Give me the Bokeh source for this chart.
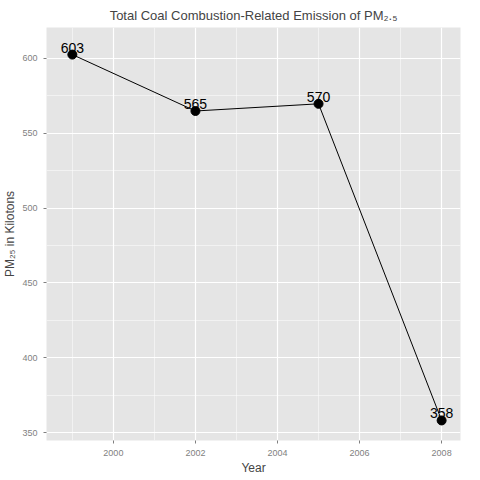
from bokeh.plotting import figure
from bokeh.embed import file_html
from bokeh.resources import INLINE
from bokeh.models import FixedTicker, ColumnDataSource
from bokeh.core.properties import value

years = [1999, 2002, 2005, 2008]
emissions = [602.6, 564.9, 569.7, 358.1]
labels = ["603", "565", "570", "358"]
xticks = [2000, 2002, 2004, 2006, 2008]
yticks = [350, 400, 450, 500, 550, 600]

src = ColumnDataSource(dict(x=years, y=emissions, t=labels))

p = figure(frame_width=414, frame_height=413, output_backend="svg", toolbar_location=None,
           x_range=(1998.37, 2008.46), y_range=(344.7, 620.7),
           min_border_left=44, min_border_right=6, min_border_top=22, min_border_bottom=28)
p.title.text = "Total Coal Combustion-Related Emission of PM\u2082.\u2085"
p.title.align = "center"
p.title.text_font = "Liberation Sans"
p.title.text_font_size = "13px"
p.title.text_font_style = "normal"
p.background_fill_color = "#E5E5E5"
p.outline_line_color = None
p.xaxis.ticker = FixedTicker(ticks=xticks, minor_ticks=[1999, 2001, 2003, 2005, 2007])
p.yaxis.ticker = FixedTicker(ticks=yticks, minor_ticks=[375, 425, 475, 525, 575, 625])
for g in (p.xgrid, p.ygrid):
    g.grid_line_color = "white"
    g.grid_line_width = 1.2
    g.minor_grid_line_color = "white"
    g.minor_grid_line_width = 0.5
for ax in (p.xaxis, p.yaxis):
    ax.axis_line_color = None
    ax.major_tick_line_color = "#7F7F7F"
    ax.minor_tick_line_color = None
    ax.major_tick_out = 3
    ax.major_tick_in = 0
    ax.major_label_text_color = "#7F7F7F"
    ax.major_label_text_font = "Liberation Sans"
    ax.major_label_text_font_size = "9px"
    ax.axis_label_text_font = "Liberation Sans"
    ax.axis_label_text_font_size = "12px"
    ax.axis_label_text_font_style = "normal"
    ax.axis_label_standoff = 2
p.xaxis.axis_label = "Year"
p.yaxis.axis_label = "PM\u2082\u2085 in Kilotons"

p.line("x", "y", source=src, line_color="black", line_width=1)
p.scatter("x", "y", source=src, size=9, color="black")
p.text("x", "y", text="t", source=src, text_align="center", text_baseline="bottom",
       y_offset=-2, text_font=value("Liberation Sans"), text_font_size="14px", text_color="black")

open("out.html", "w").write(file_html(p, INLINE))
